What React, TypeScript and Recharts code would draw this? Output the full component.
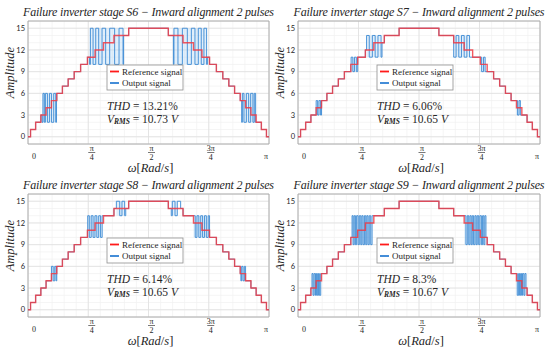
import { ComposedChart, Line, Area, XAxis, YAxis, CartesianGrid, ReferenceArea } from 'recharts'

// x = ω in degrees of the half period (0 -> 0, 180 -> π), y = output level
const refRiseX = [1.9, 5.7, 9.6, 13.5, 17.5, 21.5, 25.7, 30.0, 34.5, 39.3, 44.4, 50.1, 56.4, 64.2, 75.2]
const refRiseY = [1, 2, 3, 4, 5, 6, 7, 8, 9, 10, 11, 12, 13, 14, 15]
const refFallX = [104.8, 115.8, 123.6, 129.9, 135.6, 140.7, 145.5, 150.0, 154.3, 158.5, 162.5, 166.5, 170.4, 174.3, 178.1]
const refFallY = [14, 13, 12, 11, 10, 9, 8, 7, 6, 5, 4, 3, 2, 1, 0]

const stages = ['S6', 'S7', 'S8', 'S9']
const thdValues = ['13.21%', '6.06%', '6.14%', '8.3%']
const vrmsValues = ['10.73', '10.65', '10.65', '10.67']

const xTicks = [0, 45, 90, 135, 180]
const xTickNum = ['0', 'π', 'π', '3π', 'π']
const xTickDen = ['', '4', '2', '4', '']
const yTicks = [0, 3, 6, 9, 12, 15]

type Pulse = { low: number; high: number; startHigh: boolean; edges: number[]; to: number }

// switching windows of the output signal (edges toggle between low and high)
const s6Pulses: Pulse[] = [
  { low: 2, high: 6, startHigh: false, edges: [10.5, 11.2, 12.2, 13.0, 14.5, 16.0, 17.5, 19.2, 20.7], to: 21.3 },
  { low: 10, high: 15, startHigh: false, edges: [46.0, 46.6, 48.6, 50.6, 52.8, 55.3, 58.0, 61.0, 64.7, 68.0, 71.0], to: 71.4 },
  { low: 10, high: 15, startHigh: false, edges: [108.6, 109.0, 112.0, 115.3, 119.0, 122.0, 124.7, 127.2, 129.4, 131.4, 133.4], to: 134.0 },
  { low: 2, high: 6, startHigh: false, edges: [159.6, 160.1, 161.3, 163.1, 164.8, 166.3, 168.0, 169.0, 170.0], to: 170.4 },
]
const s7Pulses: Pulse[] = [
  { low: 3, high: 5, startHigh: true, edges: [13.5, 14.6, 15.6, 16.8], to: 17.5 },
  { low: 9, high: 11, startHigh: true, edges: [39.5, 40.8, 42.0, 43.4], to: 44.4 },
  { low: 11, high: 14, startHigh: true, edges: [51.0, 53.0, 55.3, 57.4, 59.5, 61.8], to: 62.5 },
  { low: 11, high: 14, startHigh: false, edges: [115.8, 117.6, 119.6, 121.6, 123.6, 125.6, 127.6], to: 129.9 },
  { low: 9, high: 11, startHigh: true, edges: [135.6, 136.6, 138.0, 139.2], to: 140.7 },
  { low: 3, high: 5, startHigh: true, edges: [162.5, 163.2, 164.4, 165.4], to: 166.5 },
]
const s8Pulses: Pulse[] = [
  { low: 4, high: 6, startHigh: true, edges: [17.5, 18.8, 20.0, 21.0], to: 21.5 },
  { low: 10, high: 13, startHigh: true, edges: [44.6, 45.8, 47.2, 48.6, 50.0, 51.4, 52.8, 54.2, 55.4], to: 56.4 },
  { low: 13, high: 15, startHigh: true, edges: [66.0, 68.5, 70.2, 72.2], to: 73.0 },
  { low: 13, high: 15, startHigh: false, edges: [107.0, 107.8, 109.8, 111.5], to: 114.0 },
  { low: 10, high: 13, startHigh: true, edges: [123.6, 124.9, 126.2, 127.6, 129.0, 130.4, 131.8, 133.2, 134.6], to: 135.6 },
  { low: 4, high: 6, startHigh: false, edges: [159.0, 159.6, 160.6, 161.6], to: 162.5 },
]
const s9Pulses: Pulse[] = [
  { low: 2, high: 5, startHigh: true, edges: [10.4, 11.2, 12.0, 13.0, 13.7, 14.4, 15.2, 15.9, 16.9], to: 17.5 },
  { low: 9, high: 13, startHigh: true, edges: [40.2, 41.0, 41.8, 42.7, 43.6, 44.7, 45.6, 46.7, 47.5, 48.4, 49.4, 50.4, 51.2, 52.1, 53.0, 54.1, 55.1], to: 56.4 },
  { low: 9, high: 13, startHigh: true, edges: [123.6, 124.9, 125.9, 127.0, 127.9, 128.8, 129.6, 130.6, 131.6, 132.5, 133.3, 134.4, 135.3, 136.4, 137.3, 138.2, 139.0], to: 139.8 },
  { low: 2, high: 5, startHigh: true, edges: [162.5, 163.1, 164.1, 164.8, 165.6, 166.3, 167.0, 168.0, 168.8], to: 169.6 },
]
const pulseSets = [s6Pulses, s7Pulses, s8Pulses, s9Pulses]

const RED = '#ee3b44'
const BLUE = '#3a89d4'
const BAND = '#b3d8f4'
const TEXT = '#262626'
const SERIF = "'Liberation Serif', 'Times New Roman', serif"
const xNudge = [6, 3.5, 3, 2, -3]

const refPoints = [
  { x: 0, y: 0 },
  ...refRiseX.map((x, i) => ({ x, y: refRiseY[i] })),
  ...refFallX.map((x, i) => ({ x, y: refFallY[i] })),
  { x: 180, y: 0 },
]

function refAt(x: number) {
  let y = 0
  for (const p of refPoints) if (p.x <= x) y = p.y
  return y
}

function buildOutput(pulses: Pulse[]) {
  const pts = refPoints.filter((p) => !pulses.some((w) => p.x >= w.edges[0] && p.x < w.to))
  pulses.forEach((w) => {
    w.edges.forEach((x, i) => pts.push({ x, y: (i % 2 === 0) === w.startHigh ? w.high : w.low }))
    pts.push({ x: w.to, y: refAt(w.to) })
  })
  return pts.sort((a, b) => a.x - b.x)
}

function renderFracTick(props: any) {
  const { x, y, payload } = props
  const i = xTicks.indexOf(payload.value)
  const cx = x + xNudge[i]
  const num = xTickNum[i]
  const den = xTickDen[i]
  return (
    <g key={`t${i}`} fill="#1e1e1e" stroke="none" fontFamily={SERIF} fontSize={8}>
      {den ? (
        <>
          <text x={cx} y={y + 6.5} textAnchor="middle" fill="#1e1e1e">{num}</text>
          <rect x={cx - 3.5} y={y + 8} width={7} height={0.6} fill="#1e1e1e" />
          <text x={cx} y={y + 16} textAnchor="middle" fill="#1e1e1e">{den}</text>
        </>
      ) : (
        <text x={cx} y={y + 14.5} textAnchor="middle" fill="#1e1e1e">{num}</text>
      )}
    </g>
  )
}

const xMinor = Array.from({ length: 21 }, (_, i) => i * 9)
const yMinor = Array.from({ length: 18 }, (_, i) => i - 1)

function Panel({ index, left, top, yw, mr }: { index: number; left: number; top: number; yw: number; mr: number }) {
  const W = 275
  const H = 178
  const mt = 21
  const xh = 34
  const pl = yw
  const pt = mt
  const pw = W - yw - mr
  const ph = H - mt - xh
  const pulses = pulseSets[index]
  const output = buildOutput(pulses)
  const lx = pl + 79
  const ly = pt + 44

  return (
    <div style={{ position: 'absolute', left, top, width: W, height: H }}>
      <ComposedChart width={W} height={H} margin={{ top: mt, right: mr, bottom: 0, left: 0 }}>
        <CartesianGrid
          stroke="#f1f1f1"
          strokeWidth={0.7}
          verticalCoordinatesGenerator={({ offset }: any) => xMinor.map((v) => offset.left + (offset.width * v) / 180)}
          horizontalCoordinatesGenerator={({ offset }: any) => yMinor.map((v) => offset.top + (offset.height * (16 - v)) / 17)}
        />
        <CartesianGrid stroke="#dfdfdf" strokeWidth={0.8} />
        <XAxis
          type="number"
          dataKey="x"
          domain={[0, 180]}
          ticks={xTicks}
          height={xh}
          axisLine={false}
          tickLine={false}
          tickSize={0}
          tickMargin={0}
          tick={renderFracTick}
          interval={0}
        />
        <YAxis
          type="number"
          domain={[-1, 16]}
          ticks={yTicks}
          width={yw}
          axisLine={false}
          tickLine={false}
          tickSize={0}
          tickMargin={3}
          tick={{ fontSize: 7.5, fill: TEXT, fontFamily: 'Lato' }}
          interval={0}
        />
        {pulses.map((w, i) => (
          <Area
            key={i}
            data={[
              { x: w.edges[0], band: [w.low, w.high] },
              { x: w.edges[w.edges.length - 1], band: [w.low, w.high] },
            ]}
            dataKey="band"
            type="linear"
            stroke="none"
            fill={BAND}
            fillOpacity={0.4}
            isAnimationActive={false}
            legendType="none"
          />
        ))}
        <Line data={output} dataKey="y" type="stepAfter" stroke={BLUE} strokeWidth={0.9} dot={false} isAnimationActive={false} name="Output signal" />
        <Line data={refPoints} dataKey="y" type="stepAfter" stroke={RED} strokeWidth={1.4} strokeOpacity={0.85} dot={false} isAnimationActive={false} name="Reference signal" />
        <ReferenceArea x1={0} x2={180} y1={-1} y2={16} fill="none" stroke="#a3a3a3" strokeWidth={0.8} />
      </ComposedChart>
      <svg width={W} height={H} style={{ position: 'absolute', left: 0, top: 0, pointerEvents: 'none', overflow: 'visible' }}>
        <text x={pl + pw / 2} y={pt - 5} textAnchor="middle" fontFamily={SERIF} fontStyle="italic" fontSize={12} fill={TEXT} textLength={251} lengthAdjust="spacing">
          {`Failure inverter stage ${stages[index]}  − Inward alignment 2 pulses`}
        </text>
        <text transform={`translate(${pl - 18},${pt + ph * 0.42}) rotate(-90)`} textAnchor="middle" dominantBaseline="central" fontFamily={SERIF} fontStyle="italic" fontSize={12.5} fill={TEXT}>
          Amplitude
        </text>
        <text x={pl + pw / 2 + 2} y={pt + ph + 28} textAnchor="middle" fontFamily={SERIF} fontSize={12.5} fill={TEXT}>
          <tspan fontStyle="italic">ω</tspan>[<tspan fontStyle="italic">Rad</tspan>/<tspan fontStyle="italic">s</tspan>]
        </text>
        <rect x={lx} y={ly} width={76} height={25} fill="#fff" stroke="#8f8f8f" strokeWidth={0.8} />
        <line x1={lx + 3} x2={lx + 12} y1={ly + 6.5} y2={ly + 6.5} stroke="#ff1a1a" strokeWidth={1.8} />
        <text x={lx + 15} y={ly + 6.5} dominantBaseline="central" fontFamily={SERIF} fontSize={9} fill={TEXT}>Reference signal</text>
        <line x1={lx + 3} x2={lx + 12} y1={ly + 18} y2={ly + 18} stroke="#2f80d4" strokeWidth={1.8} />
        <text x={lx + 15} y={ly + 18} dominantBaseline="central" fontFamily={SERIF} fontSize={9} fill={TEXT}>Output signal</text>
        <text x={lx} y={pt + 84.5} dominantBaseline="central" fontFamily={SERIF} fontSize={11.5} fill={TEXT}>
          <tspan fontStyle="italic">THD</tspan> = {thdValues[index]}
        </text>
        <text x={lx} y={pt + 97.5} dominantBaseline="central" fontFamily={SERIF} fontSize={11.5} fill={TEXT}>
          <tspan fontStyle="italic">V</tspan>
          <tspan fontStyle="italic" fontWeight="bold" fontSize={7.5} dy={2}>RMS</tspan>
          <tspan dy={-2}>{` = ${vrmsValues[index]} `}</tspan>
          <tspan fontStyle="italic">V</tspan>
        </text>
      </svg>
    </div>
  )
}

export default function App() {
  return (
    <div style={{ position: 'absolute', left: 0, top: 0, width: 550, height: 355, background: '#fff' }}>
      <Panel index={0} left={0} top={0} yw={28} mr={6} />
      <Panel index={1} left={275} top={0} yw={23} mr={10} />
      <Panel index={2} left={0} top={173} yw={28} mr={6} />
      <Panel index={3} left={275} top={173} yw={23} mr={10} />
    </div>
  )
}
